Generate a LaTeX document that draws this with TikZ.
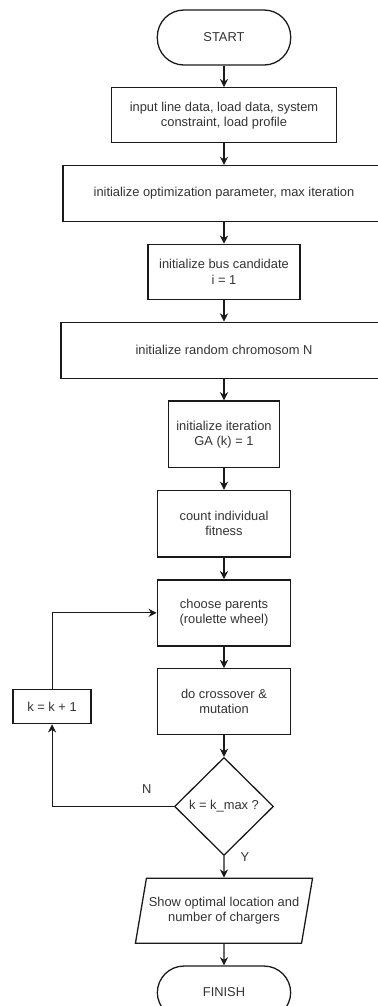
\documentclass[tikz,border=0pt]{standalone}
\usepackage{fontspec}
\setmainfont{Liberation Sans}
\usetikzlibrary{shapes.geometric,arrows.meta,positioning,calc}
\definecolor{textgray}{HTML}{333333}
\definecolor{linegray}{HTML}{1A1A1A}

\begin{document}
\begin{tikzpicture}[node distance=0.645cm, font=\fontsize{11pt}{13pt}\selectfont,
  box/.style={draw=linegray, line width=1.1pt, text=textgray, align=center, inner sep=2pt},
  terminal/.style={box, rounded corners=0.8cm, minimum width=4.0cm, minimum height=1.65cm},
  decision/.style={box, diamond, inner sep=0pt, minimum width=2.97cm, minimum height=2.94cm},
  io/.style={box, trapezium, trapezium left angle=71, trapezium right angle=109,
    trapezium stretches body, minimum width=5.31cm, minimum height=1.95cm},
  flow/.style={draw=linegray, line width=0.9pt, -{Stealth[length=7pt,width=7pt]}},
  tag/.style={text=textgray}]
  \useasboundingbox (0,0) rectangle (11.34,-30.18);

  % main column
  \node[terminal] (start) at (6.72,-1.125) {START};
  \node[box, minimum width=6.75cm, minimum height=1.65cm, below=of start] (input) {input line data, load data, system\\constraint, load profile};
  \node[box, minimum width=9.66cm, minimum height=1.68cm, below=of input] (optparam) {initialize optimization parameter, max iteration};
  \node[box, minimum width=4.56cm, minimum height=1.65cm, below=of optparam] (buscand) {initialize bus candidate\\i = 1};
  \node[box, minimum width=9.78cm, minimum height=1.68cm, below=of buscand] (chromo) {initialize random chromosom N};
  \node[box, minimum width=3.33cm, minimum height=2.0cm, below=of chromo] (iterga) {initialize iteration\\GA (k) = 1};
  \node[box, minimum width=4.0cm, minimum height=2.0cm, below=of iterga] (fitness) {count individual\\fitness};
  \node[box, minimum width=4.0cm, minimum height=1.98cm, below=of fitness] (parents) {choose parents\\(roulette wheel)};
  \node[box, minimum width=4.0cm, minimum height=1.98cm, below=of parents] (crossover) {do crossover \&\\mutation};
  \node[decision, below=of crossover] (check) {k = k\_max ?};
  \node[io, below=of check] (result) {Show optimal location and\\number of chargers};
  \node[terminal, minimum height=1.59cm, below=of result] (finish) {FINISH};

  % loop back
  \node[box, minimum width=2.34cm, minimum height=1.02cm, left=1.95cm of crossover, yshift=-0.15cm] (kinc) {k = k + 1};

  \foreach \a/\b in {start/input, input/optparam, optparam/buscand, buscand/chromo,
    chromo/iterga, iterga/fitness, fitness/parents, parents/crossover,
    crossover/check, check/result, result/finish}
    \draw[flow] (\a) -- (\b);

  \draw[flow] (check.west) -| (kinc.south);
  \draw[flow] (kinc.north) |- (parents.west);

  \node[tag] (nolabel) at ($(check.west)+(-0.81,0.51)$) {N};
  \node[tag] (yeslabel) at ($(check.south)+(0.63,-0.03)$) {Y};
\end{tikzpicture}
\end{document}
